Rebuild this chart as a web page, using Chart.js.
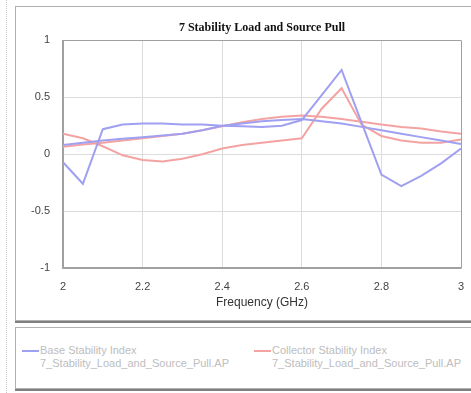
<!DOCTYPE html>
<html>
<head>
<meta charset="utf-8">
<script src="https://cdn.jsdelivr.net/npm/chart.js@4/dist/chart.umd.min.js"></script>
<style>
  html, body { margin: 0; padding: 0; background: #fff; }
  body { width: 471px; height: 393px; position: relative; overflow: hidden; font-family: "Liberation Sans", Arial, sans-serif; }
  .dots { position: absolute; left: 6px; top: 0; height: 393px; border-left: 1px dotted #c8c8c8; }
  .panel { position: absolute; left: 15px; top: 6px; width: 470px; height: 313px; border: 1px solid #b0b0b0; box-shadow: 0 2px 0 #808080; background: #fff; }
  .legend-box { position: absolute; left: 15px; top: 327px; width: 470px; height: 60px; border: 1px solid #b0b0b0; box-shadow: 0 2px 0 #808080; background: #fff; }
  #chart { position: absolute; left: 0; top: 0; }
  .item { position: absolute; top: 16px; font-size: 11px; line-height: 13px; color: #bdbdbd; }
  .item .swatch { position: absolute; left: -18px; top: 6px; width: 17px; height: 2px; }
</style>
</head>
<body>
<div class="dots"></div>
<div class="panel"></div>
<div class="legend-box" id="legend"></div>
<canvas id="chart" width="471" height="320"></canvas>
<script>
// frequency points (GHz)
const freqs = [2.00, 2.05, 2.10, 2.15, 2.20, 2.25, 2.30, 2.35, 2.40, 2.45, 2.50,
               2.55, 2.60, 2.65, 2.70, 2.75, 2.80, 2.85, 2.90, 2.95, 3.00];

// Base Stability Index, two traces
const baseA = [-0.07, -0.26, 0.22, 0.26, 0.27, 0.27, 0.26, 0.26, 0.25, 0.245, 0.24,
               0.25, 0.30, 0.52, 0.74, 0.28, -0.18, -0.28, -0.19, -0.08, 0.05];
const baseB = [0.08, 0.10, 0.12, 0.135, 0.15, 0.165, 0.18, 0.21, 0.25, 0.27, 0.29,
               0.30, 0.31, 0.29, 0.27, 0.24, 0.21, 0.18, 0.15, 0.12, 0.09];

// Collector Stability Index, two traces
const collA = [0.18, 0.14, 0.07, -0.01, -0.05, -0.065, -0.04, 0.00, 0.05, 0.08, 0.10,
               0.12, 0.14, 0.40, 0.58, 0.26, 0.16, 0.12, 0.10, 0.10, 0.13];
const collB = [0.065, 0.085, 0.10, 0.12, 0.14, 0.16, 0.18, 0.21, 0.245, 0.28, 0.31,
               0.33, 0.34, 0.33, 0.31, 0.285, 0.26, 0.24, 0.225, 0.20, 0.18];

const legendNames = ['Base Stability Index', 'Collector Stability Index'];
const sourceName = '7_Stability_Load_and_Source_Pull.AP';

const BLUE = '#a0a0f2';
const RED = '#f4a3a3';

function pts(ys) {
  return freqs.map((x, i) => ({ x, y: ys[i] }));
}

function line(label, ys, color) {
  return { label, data: pts(ys), borderColor: color, backgroundColor: color,
           borderWidth: 2, pointRadius: 0, tension: 0, fill: false };
}

// HTML legend in its own box, as in the original
const legendEl = document.getElementById('legend');
[[legendNames[0], BLUE, 24], [legendNames[1], RED, 256]].forEach(([name, color, left]) => {
  legendEl.insertAdjacentHTML('beforeend',
    `<div class="item" style="left:${left}px"><span class="swatch" style="background:${color}"></span>${name}<br>${sourceName}</div>`);
});

// edge grid lines double as the plot frame
const gridColor = (ctx) => (ctx.index === 0 || ctx.index === ctx.scale.ticks.length - 1) ? '#a0a0a0' : '#dcdcdc';
const tickFmt = (v) => String(Math.round(v * 10) / 10);

new Chart(document.getElementById('chart'), {
  type: 'line',
  data: {
    datasets: [
      line(legendNames[0], baseA, BLUE),
      line(legendNames[0], baseB, BLUE),
      line(legendNames[1], collA, RED),
      line(legendNames[1], collB, RED),
    ]
  },
  options: {
    responsive: false,
    animation: false,
    layout: { padding: { left: 0, right: 10, top: 0, bottom: 10 } },
    plugins: {
      legend: { display: false },
      tooltip: { enabled: false },
      title: {
        display: true,
        fullSize: false,
        text: '7 Stability Load and Source Pull',
        color: '#111',
        font: { family: '"Liberation Serif", "Times New Roman", serif', size: 12, weight: 'bold' },
        padding: { top: 21, bottom: 5 }
      }
    },
    scales: {
      x: {
        type: 'linear',
        min: 2, max: 3,
        ticks: { stepSize: 0.2, color: '#444', padding: 12, font: { family: '"Liberation Sans", Arial', size: 11 },
                 callback: tickFmt },
        grid: { color: gridColor, drawTicks: false, lineWidth: 1 },
        border: { color: '#a0a0a0', width: 1.5 },
        title: { display: true, text: 'Frequency (GHz)', color: '#333', padding: { top: 2, bottom: 0 },
                 font: { family: '"Liberation Sans", Arial', size: 12 } },
        afterFit: (s) => { s.height = 42; s.paddingRight = 0; s.paddingLeft = 0; }
      },
      y: {
        min: -1, max: 1,
        ticks: { stepSize: 0.5, color: '#444', padding: 13, font: { family: '"Liberation Sans", Arial', size: 11 },
                 callback: tickFmt },
        grid: { color: gridColor, drawTicks: false, lineWidth: 1 },
        border: { color: '#a0a0a0', width: 1.5 },
        afterFit: (s) => { s.width = 63; }
      }
    }
  }
});
</script>
</body>
</html>
